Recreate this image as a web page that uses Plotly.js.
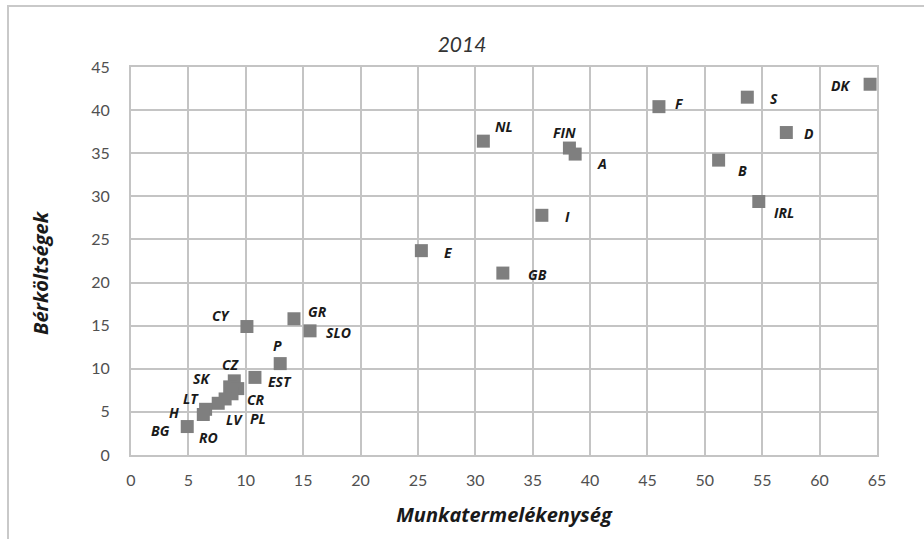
<!DOCTYPE html>
<html>
<head>
<meta charset="utf-8">
<script src="https://cdn.plot.ly/plotly-3.0.1.min.js"></script>
<style>
  html, body { margin: 0; padding: 0; background: #fff; }
  #wrap { position: relative; width: 924px; height: 539px; overflow: hidden; }
  #chart { width: 924px; height: 539px; }
  #frame { position: absolute; left: 7px; top: 5px; width: 940px; height: 560px;
           border: 2px solid #c9c9c9; pointer-events: none; box-sizing: border-box; }
</style>
</head>
<body>
<div id="wrap">
  <div id="chart"></div>
  <div id="frame"></div>
</div>
<script>
// Data
const countries = ["DK","S","D","B","IRL","F","NL","FIN","A","I","E","GB",
                   "CY","GR","SLO","P","EST","CZ","SK","CR","PL","LV","LT","H","RO","BG"];
const productivity = [64.4, 53.7, 57.1, 51.2, 54.7, 46.0, 30.7, 38.2, 38.7, 35.8, 25.3, 32.4,
                      10.1, 14.2, 15.6, 13.0, 10.8, 9.0, 8.6, 9.3, 8.8, 8.2, 7.6, 6.5, 6.3, 4.9];
const wageCosts    = [43.0, 41.5, 37.4, 34.2, 29.4, 40.4, 36.4, 35.6, 34.9, 27.8, 23.7, 21.1,
                      14.9, 15.8, 14.4, 10.6, 9.0, 8.6, 7.9, 7.7, 7.1, 6.5, 6.0, 5.3, 4.7, 3.3];
const xTicks = [0,5,10,15,20,25,30,35,40,45,50,55,60,65];
const yTicks = [0,5,10,15,20,25,30,35,40,45];
const xTitle = "Munkatermelékenység";
const yTitle = "Bérköltségek";
const chartTitle = "2014";

// Label placement (pixel offsets from each marker) - style only
const labelOffsets = {
  DK:[-30,1], S:[27,1], D:[23,1], B:[24,10], IRL:[25,11], F:[21,-3],
  NL:[21,-15], FIN:[-5,-16], A:[27,9], I:[26,1], E:[27,2], GB:[35,1],
  CY:[-25,-11], GR:[24,-7], SLO:[28,2], P:[-3,-18], EST:[25,4],
  CZ:[-3,-16], SK:[-28,-8], CR:[18,11], PL:[26,25], LV:[9,21],
  LT:[-27,-5], H:[-32,3], RO:[5,23], BG:[-27,4]
};

const FONT = "'Open Sans', 'DejaVu Sans', sans-serif";
const TICKFONT = "Lato, 'Open Sans', sans-serif";

const trace = {
  type: "scatter",
  mode: "markers",
  x: productivity,
  y: wageCosts,
  text: countries,
  marker: { symbol: "square", size: 13, color: "#7f7f7f", line: { width: 0 } },
  hoverinfo: "text+x+y",
  showlegend: false
};

const annotations = countries.map((c, i) => ({
  x: productivity[i], y: wageCosts[i], xref: "x", yref: "y",
  text: "<b><i>" + c + "</i></b>",
  showarrow: false,
  xshift: labelOffsets[c][0],
  yshift: -labelOffsets[c][1],
  font: { family: FONT, size: 14, color: "#1a1a1a" },
  xanchor: "center", yanchor: "middle"
}));

// y axis title as a rotated annotation (placed slightly below plot centre as in the reference)
annotations.push({
  text: "<b><i>" + yTitle + "</i></b>",
  xref: "paper", yref: "paper",
  x: (40 - 131) / 746, y: (455 - 273) / 388,
  xanchor: "center", yanchor: "middle",
  textangle: -90, showarrow: false,
  font: { family: FONT, size: 20, color: "#1a1a1a" }
});

const layout = {
  width: 924, height: 539,
  margin: { l: 131, r: 47, t: 67, b: 84 },
  paper_bgcolor: "#ffffff",
  plot_bgcolor: "#ffffff",
  font: { family: FONT, color: "#404040" },
  title: {
    text: "<i>" + chartTitle + "</i>",
    x: 0.5, xref: "container", xanchor: "center",
    y: 1 - 45/539, yref: "container", yanchor: "middle",
    font: { family: TICKFONT, size: 21, color: "#333333" }
  },
  xaxis: {
    range: [0, 65],
    tickvals: xTicks, ticktext: xTicks.map(String),
    showgrid: true, gridcolor: "#c4c4c4", gridwidth: 2,
    zeroline: false,
    showline: true, linecolor: "#c4c4c4", linewidth: 2, mirror: true,
    ticks: "", ticklabelstandoff: 10,
    tickfont: { family: TICKFONT, size: 16, color: "#505050" },
    title: { text: "<b><i>" + xTitle + "</i></b>", standoff: 20,
             font: { family: FONT, size: 20, color: "#1a1a1a" } }
  },
  yaxis: {
    range: [0, 45],
    tickvals: yTicks, ticktext: yTicks.map(String),
    showgrid: true, gridcolor: "#c4c4c4", gridwidth: 2,
    zeroline: false,
    showline: true, linecolor: "#c4c4c4", linewidth: 2, mirror: true,
    ticks: "", ticklabelstandoff: 16,
    tickfont: { family: TICKFONT, size: 16, color: "#505050" }
  },
  annotations: annotations
};

Plotly.newPlot("chart", [trace], layout, { displayModeBar: false, staticPlot: true });
</script>
</body>
</html>
